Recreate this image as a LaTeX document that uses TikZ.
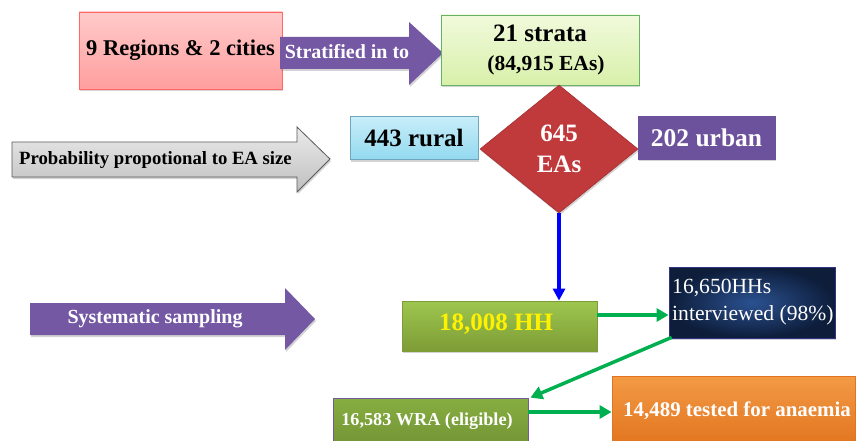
\documentclass[tikz,border=0pt]{standalone}
\usepackage{fontspec}
\setmainfont{Liberation Serif}
\usetikzlibrary{shapes.geometric,arrows.meta,shadows}
\definecolor{purp}{HTML}{7558A4}
\definecolor{urb}{HTML}{6C519C}
\definecolor{dred}{HTML}{C0393B}
\definecolor{garr}{HTML}{00B050}
\definecolor{navyc}{HTML}{2B5190}
\definecolor{navyo}{HTML}{0D1D3A}
\definecolor{hhtop}{HTML}{9DC64F}
\definecolor{hhbot}{HTML}{7E9C36}
\definecolor{wratop}{HTML}{86AE40}
\definecolor{wrabot}{HTML}{739436}
\definecolor{ortop}{HTML}{F39A45}
\definecolor{orbot}{HTML}{E2741F}
\definecolor{pinktop}{HTML}{FFCACA}
\definecolor{pinkbot}{HTML}{FF9E9E}
\definecolor{grtop}{HTML}{F1FADC}
\definecolor{grbot}{HTML}{D8F0AA}
\definecolor{cytop}{HTML}{C8EEF9}
\definecolor{cybot}{HTML}{93D9EF}
\tikzset{
  shd/.style={drop shadow={shadow xshift=1pt, shadow yshift=-2pt, opacity=0.35, fill=gray}},
  box/.style={draw, line width=0.8pt, inner sep=0pt, align=center, font=\bfseries, shd},
  lbl/.style={inner sep=0pt, align=center, font=\bfseries},
  garrow/.style={draw=garr, line width=3.5pt, -{Triangle[length=12pt,width=13pt]}},
  barrow/.style={draw=blue, line width=3.5pt, -{Triangle[length=12pt,width=12pt]}}
}
\begin{document}
\begin{tikzpicture}[x=1pt,y=-1pt]
\useasboundingbox (0,0) rectangle (861,441);
% top row
\node[box, draw=red!60!white, top color=pinktop, bottom color=pinkbot,
  minimum width=203pt, minimum height=77pt, font=\bfseries\fontsize{22.5}{26}\selectfont]
  (regions) at (180.5,50.5) {9 Regions \& 2 cities};
\path[fill=purp, shd] (280,37)--(409,37)--(409,22)--(443,53)--(409,85)--(409,69)--(280,69)--cycle;
\node[lbl, text=white, font=\bfseries\fontsize{20}{23}\selectfont] (strat) at (347,52) {Stratified in to};
\node[box, draw=green!50!black!60!white, top color=grtop, bottom color=grbot,
  minimum width=198pt, minimum height=70pt] (strata) at (540,50) {};
\node[lbl, font=\bfseries\fontsize{25}{28}\selectfont] (strataA) at (540,33) {21 strata};
\node[lbl, font=\bfseries\fontsize{21.5}{24}\selectfont] (strataB) at (546,65) {(84,915 EAs)};
% second row
\path[draw=black!65, line width=0.8pt, top color=black!8, bottom color=black!25, shd]
  (12,142)--(297,142)--(297,127)--(330,159)--(297,192)--(297,177)--(12,177)--cycle;
\node[lbl, font=\bfseries\fontsize{18.7}{21}\selectfont, anchor=west] (pps) at (19,160) {Probability propotional to EA size};
\node[box, draw=cyan!60!black!70!white, top color=cytop, bottom color=cybot,
  minimum width=128pt, minimum height=43pt, font=\bfseries\fontsize{25}{28}\selectfont]
  (rural) at (414,138) {443 rural};
\node[diamond, fill=dred, draw=dred!85!black, line width=0.6pt, inner sep=0pt, minimum width=158pt, minimum height=128pt,
  text=white, align=center, font=\bfseries\fontsize{25}{31}\selectfont, shd]
  (eas) at (559,149) {645\\EAs};
\node[box, draw=urb, fill=urb, text=white, minimum width=137pt, minimum height=43pt,
  font=\bfseries\fontsize{25.5}{28}\selectfont] (urban) at (706.5,137.5) {202 urban};
% third row
\path[fill=purp, shd] (30,303)--(285,303)--(285,288)--(315,319)--(285,350)--(285,335)--(30,335)--cycle;
\node[lbl, text=white, font=\bfseries\fontsize{20}{23}\selectfont] (sys) at (155,319) {Systematic sampling};
\node[box, draw=hhbot, top color=hhtop, bottom color=hhbot,
  minimum width=195pt, minimum height=50pt] (hh) at (499.5,326) {};
\node[lbl, text=yellow, font=\bfseries\fontsize{25}{28}\selectfont] (hhT) at (496,324) {18,008 HH};
\node[draw=black!60!blue!80!white, line width=0.8pt, inner color=navyc, outer color=navyo, minimum width=166pt, minimum height=71pt, inner sep=0pt, shd]
  (navy) at (752,302.5) {};
\node[inner sep=0pt, text=white, align=left, anchor=west, font=\fontsize{21.6}{27}\selectfont] (navyT) at (672,302) {16,650HHs\\interviewed (98\%)};
% bottom row
\node[box, draw=purp, top color=wratop, bottom color=wrabot,
  minimum width=195pt, minimum height=48pt] (wra) at (430.5,422) {};
\node[lbl, text=white, font=\bfseries\fontsize{18.2}{21}\selectfont] (wraT) at (427,421) {16,583 WRA (eligible)};
\node[box, draw=orbot, top color=ortop, bottom color=orbot,
  minimum width=243pt, minimum height=70pt] (orng) at (733.5,411) {};
\node[lbl, text=white, font=\bfseries\fontsize{20.9}{24}\selectfont] (orngT) at (737,411) {14,489 tested for anaemia};
% connectors
\draw[barrow] (eas.south) -- (eas.south |- hh.north);
\draw[garrow] ([yshift=11pt]hh.east) -- ([yshift=11pt]hh.east -| navy.west);
\draw[garrow] ([xshift=3pt,yshift=1pt]navy.south west) -- ([xshift=2pt]wra.north east);
\draw[garrow] ([yshift=10pt]wra.east) -- ([yshift=10pt]wra.east -| orng.west);
\end{tikzpicture}
\end{document}
